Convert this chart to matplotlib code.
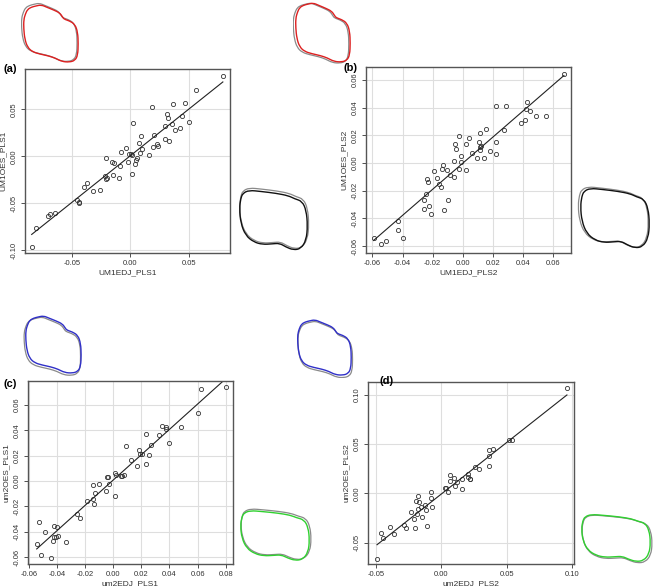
import numpy as np
import matplotlib
matplotlib.use('Agg')
import matplotlib.pyplot as plt
from matplotlib.path import Path
from matplotlib.patches import PathPatch

plt.rcParams['font.family'] = ['Liberation Sans', 'DejaVu Sans']

# panel (a)
a_x = [0.0789, 0.0563, 0.0469, 0.0363, 0.0183, 0.0311, 0.0317, 0.0443, 0.0357, 0.0297,
       0.0497, 0.0426, 0.0377, 0.0020, 0.0091, 0.0203, 0.0291, 0.0326, 0.0231, 0.0234,
       0.0191, 0.0071, 0.0100, 0.0157, 0.0080, 0.0057, 0.0051, 0.0037, 0.0014, 0.0006,
       -0.0011, -0.0017, 0.0017, -0.0040, -0.0080, -0.0211, -0.0157, -0.0140, -0.0091, -0.0146,
       -0.0097, -0.0217, -0.0203, -0.0206, -0.0374, -0.0394, -0.0323, -0.0260, -0.0460, -0.0443,
       -0.0440, -0.0643, -0.0683, -0.0700, -0.0809, -0.0843]
a_y = [0.0855, 0.0702, 0.0571, 0.0557, 0.0521, 0.0447, 0.0404, 0.0429, 0.0340, 0.0326,
       0.0369, 0.0298, 0.0277, 0.0358, 0.0220, 0.0223, 0.0181, 0.0163, 0.0135, 0.0106,
       0.0096, 0.0142, 0.0078, 0.0018, 0.0035, -0.0014, -0.0043, -0.0078, 0.0014, 0.0021,
       0.0028, -0.0057, -0.0188, 0.0092, 0.0050, -0.0014, -0.0064, -0.0071, -0.0103, -0.0199,
       -0.0230, -0.0209, -0.0234, -0.0245, -0.0284, -0.0330, -0.0365, -0.0362, -0.0465, -0.0482,
       -0.0493, -0.0603, -0.0610, -0.0631, -0.0762, -0.0961]

# panel (b)
b_x = [0.0670, 0.0219, 0.0283, 0.0424, 0.0420, 0.0444, 0.0385, 0.0413, 0.0488, 0.0552,
       0.0274, 0.0152, 0.0117, -0.0027, 0.0044, -0.0049, 0.0022, 0.0104, 0.0219, -0.0044,
       0.0111, 0.0122, 0.0064, 0.0113, 0.0181, 0.0217, -0.0011, 0.0091, 0.0139, -0.0060,
       -0.0015, -0.0024, 0.0018, -0.0108, -0.0130, -0.0137, -0.0082, -0.0060, -0.0194, -0.0170,
       -0.0236, -0.0232, -0.0155, -0.0148, -0.0243, -0.0256, -0.0097, -0.0225, -0.0256, -0.0122,
       -0.0210, -0.0433, -0.0427, -0.0398, -0.0592, -0.0511, -0.0541]
b_y = [0.0643, 0.0410, 0.0412, 0.0439, 0.0390, 0.0373, 0.0287, 0.0308, 0.0340, 0.0340,
       0.0239, 0.0243, 0.0219, 0.0198, 0.0183, 0.0140, 0.0137, 0.0149, 0.0152, 0.0099,
       0.0118, 0.0123, 0.0072, 0.0092, 0.0089, 0.0063, 0.0048, 0.0034, 0.0039, 0.0014,
       0.0010, -0.0043, -0.0053, -0.0051, -0.0017, -0.0041, -0.0089, -0.0099, -0.0060, -0.0111,
       -0.0113, -0.0135, -0.0152, -0.0173, -0.0222, -0.0267, -0.0267, -0.0308, -0.0330, -0.0337,
       -0.0371, -0.0417, -0.0487, -0.0545, -0.0540, -0.0561, -0.0586]

# panel (c)
c_x = [0.0802, 0.0625, 0.0602, 0.0479, 0.0345, 0.0378, 0.0378, 0.0326, 0.0231, 0.0396,
       0.0094, 0.0184, 0.0189, 0.0203, 0.0267, 0.0255, 0.0127, 0.0231, 0.0172, 0.0009,
       0.0021, -0.0038, -0.0042, 0.0054, 0.0073, 0.0064, -0.0146, -0.0099, -0.0031, -0.0052,
       0.0012, -0.0127, -0.0144, -0.0137, -0.0189, -0.0255, -0.0236, -0.0425, -0.0401, -0.0529,
       -0.0484, -0.0420, -0.0397, -0.0408, -0.0432, -0.0333, -0.0545, -0.0514, -0.0444]
c_y = [0.0739, 0.0724, 0.0539, 0.0429, 0.0437, 0.0424, 0.0408, 0.0363, 0.0368, 0.0303,
       0.0279, 0.0247, 0.0216, 0.0211, 0.0282, 0.0205, 0.0168, 0.0134, 0.0118, 0.0066,
       0.0047, 0.0029, 0.0032, 0.0042, 0.0045, 0.0037, -0.0034, -0.0026, -0.0026, -0.0076,
       -0.0118, -0.0092, -0.0145, -0.0179, -0.0161, -0.0261, -0.0289, -0.0353, -0.0363, -0.0324,
       -0.0403, -0.0439, -0.0434, -0.0442, -0.0476, -0.0479, -0.0497, -0.0587, -0.0608]

# panel (d)
d_x = [0.0959, 0.0515, 0.0538, 0.0393, 0.0365, 0.0365, 0.0363, 0.0254, 0.0287, 0.0069,
       0.0099, 0.0066, 0.0122, 0.0162, 0.0201, 0.0206, 0.0216, 0.0223, 0.0104, 0.0155,
       0.0028, 0.0036, 0.0053, -0.0081, -0.0175, -0.0076, -0.0195, -0.0170, -0.0071, -0.0124,
       -0.0155, -0.0117, -0.0180, -0.0233, -0.0185, -0.0150, -0.0208, -0.0107, -0.0201, -0.0272,
       -0.0284, -0.0393, -0.0363, -0.0459, -0.0447, -0.0490]
d_y = [0.1068, 0.0537, 0.0537, 0.0453, 0.0439, 0.0375, 0.0277, 0.0270, 0.0247, 0.0182,
       0.0159, 0.0125, 0.0115, 0.0142, 0.0196, 0.0169, 0.0149, 0.0142, 0.0074, 0.0041,
       0.0054, 0.0054, 0.0010, 0.0017, -0.0030, -0.0044, -0.0074, -0.0091, -0.0139, -0.0122,
       -0.0135, -0.0169, -0.0162, -0.0193, -0.0213, -0.0243, -0.0260, -0.0328, -0.0355, -0.0351,
       -0.0321, -0.0345, -0.0409, -0.0399, -0.0456, -0.0666]

# outline control points (normalised 0..1)
vert_x = [0.03, 0.07, 0.14, 0.22, 0.32, 0.42, 0.55, 0.66, 0.71, 0.74, 0.84, 0.94, 0.99,
          1.00, 0.99, 0.94, 0.84, 0.70, 0.58, 0.45, 0.30, 0.16, 0.07, 0.02, 0.00, 0.00]
vert_y = [0.84, 0.92, 0.96, 0.98, 1.00, 0.96, 0.91, 0.86, 0.79, 0.75, 0.72, 0.66, 0.52,
          0.32, 0.12, 0.03, 0.00, 0.01, 0.07, 0.11, 0.14, 0.18, 0.26, 0.40, 0.58, 0.74]
horiz_x = [0.05, 0.14, 0.32, 0.54, 0.72, 0.81, 0.92, 0.98, 1.00, 0.98, 0.90, 0.79, 0.68,
           0.59, 0.48, 0.34, 0.21, 0.09, 0.02, 0.00, 0.02]
horiz_y = [0.93, 0.98, 0.96, 0.93, 0.89, 0.84, 0.80, 0.65, 0.40, 0.16, 0.02, 0.00, 0.05,
           0.11, 0.10, 0.09, 0.13, 0.24, 0.44, 0.68, 0.85]

W, H = 654, 587


def px_rect(x0, y0, x1, y1):
    return [x0 / W, 1 - y1 / H, (x1 - x0) / W, (y1 - y0) / H]


def fmt(t):
    s = '%.2f' % t
    return '0.00' if s == '-0.00' else s


def scatter_panel(fig, box, x, y, xlim, ylim, xticks, yticks, xlabel, ylabel, tag, tagpos):
    ax = fig.add_axes(px_rect(*box))
    ax.set_xlim(xlim)
    ax.set_ylim(ylim)
    ax.set_xticks(xticks)
    ax.set_yticks(yticks)
    ax.set_xticklabels([fmt(t) for t in xticks])
    ax.set_yticklabels([fmt(t) for t in yticks], rotation=90, va='center')
    ax.grid(color='#dedede', lw=0.8)
    ax.set_axisbelow(True)
    ax.plot(x, y, 'o', mfc='none', mec='#333333', ms=3, mew=0.6)
    slope, icpt = np.polyfit(x, y, 1)
    xs = np.array([min(x), max(x)])
    ax.plot(xs, icpt + slope * xs, color='#222222', lw=0.8)
    for s in ax.spines.values():
        s.set_color('#555555')
        s.set_linewidth(1.0)
    ax.tick_params(labelsize=5.5, length=3, width=0.6, colors='#333333', pad=2)
    ax.set_xlabel(xlabel, fontsize=6, labelpad=2, color='#333333')
    ax.set_ylabel(ylabel, fontsize=6, labelpad=3, color='#333333')
    fig.text(tagpos[0] / W, 1 - tagpos[1] / H, tag, fontsize=8, fontweight='bold',
             va='center', ha='left')


def smooth_path(px, py):
    # closed quadratic spline through the midpoints, control points = given points
    pts = np.column_stack([px, py])
    n = len(pts)
    mids = (pts + np.roll(pts, -1, axis=0)) / 2
    verts = [mids[-1]]
    codes = [Path.MOVETO]
    for i in range(n):
        verts += [pts[i], mids[i]]
        codes += [Path.CURVE3, Path.CURVE3]
    return Path(verts, codes)


def outline(fig, box, sx, sy, color, gshift):
    ax = fig.add_axes(px_rect(*box))
    ax.axis('off')
    sx, sy = np.array(sx), np.array(sy)
    gx = 0.5 + (sx - 0.5) * 1.02 + gshift[0]
    gy = 0.5 + (sy - 0.5) * 1.02 + gshift[1]
    ax.add_patch(PathPatch(smooth_path(gx, gy), fill=False, ec='#8a8a8a', lw=0.9))
    ax.add_patch(PathPatch(smooth_path(sx, sy), fill=False, ec=color, lw=1.0))
    ax.set_xlim(-0.05, 1.05)
    ax.set_ylim(-0.05, 1.05)


fig = plt.figure(figsize=(W / 100, H / 100), dpi=100)

scatter_panel(fig, (25, 69, 230, 253), a_x, a_y, (-0.090, 0.085), (-0.103, 0.093),
              [-0.05, 0.0, 0.05], [-0.10, -0.05, 0.0, 0.05],
              'UM1EDJ_PLS1', 'UM1OES_PLS1', '(a)', (3, 69))
scatter_panel(fig, (366, 67, 571, 253), b_x, b_y, (-0.0642, 0.0717), (-0.0651, 0.0694),
              [-0.06, -0.04, -0.02, 0.0, 0.02, 0.04, 0.06],
              [-0.06, -0.04, -0.02, 0.0, 0.02, 0.04, 0.06],
              'UM1EDJ_PLS2', 'UM1OES_PLS2', '(b)', (343, 68))
scatter_panel(fig, (28, 381, 233, 564), c_x, c_y, (-0.0607, 0.0852), (-0.0655, 0.0789),
              [-0.06, -0.04, -0.02, 0.0, 0.02, 0.04, 0.06, 0.08],
              [-0.06, -0.04, -0.02, 0.0, 0.02, 0.04, 0.06],
              'um2EDJ_PLS1', 'um2OES_PLS1', '(c)', (3, 384))
scatter_panel(fig, (368, 382, 574, 564), d_x, d_y, (-0.0559, 0.1013), (-0.0716, 0.1128),
              [-0.05, 0.0, 0.05, 0.10], [-0.05, 0.0, 0.05, 0.10],
              'um2EDJ_PLS2', 'um2OES_PLS2', '(d)', (379, 381))

outline(fig, (21, 2, 81, 65), vert_x, vert_y, '#dd2020', (-0.03, 0.02))
outline(fig, (293, 0, 353, 65), vert_x, vert_y, '#dd2020', (-0.035, -0.01))
outline(fig, (236, 186, 311, 253), horiz_x, horiz_y, '#111111', (0.01, 0.03))
outline(fig, (577, 184, 653, 251), horiz_x, horiz_y, '#111111', (-0.025, 0.015))
outline(fig, (23, 313, 84, 376), vert_x, vert_y, '#3030c8', (-0.02, -0.03))
outline(fig, (295, 317, 354, 378), vert_x, vert_y, '#3030c8', (0.015, -0.035))
outline(fig, (237, 507, 313, 563), horiz_x, horiz_y, '#30d030', (0.015, 0.025))
outline(fig, (578, 511, 654, 564), horiz_x, horiz_y, '#30d030', (0.015, -0.02))

fig.savefig('out.png', dpi=100)
